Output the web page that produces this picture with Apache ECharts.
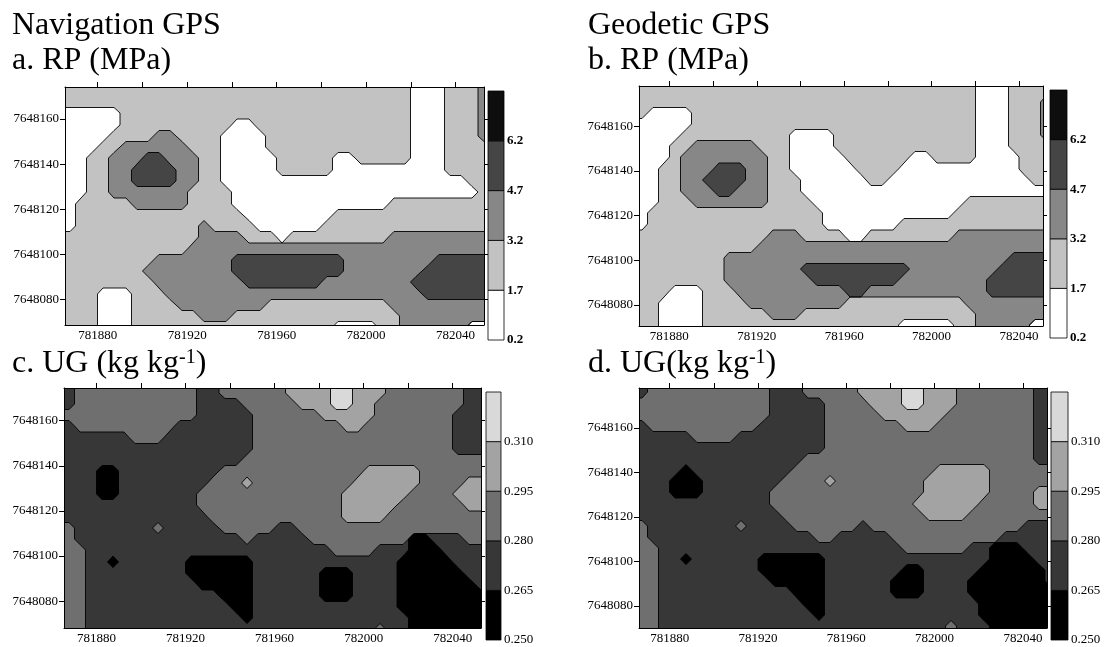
<!DOCTYPE html>
<html>
<head>
<meta charset="utf-8">
<script src="https://cdn.jsdelivr.net/npm/echarts@6/dist/echarts.min.js"></script>
<style>
html, body { margin: 0; padding: 0; background: #fff; }
#chart { width: 1107px; height: 647px; }
</style>
</head>
<body>
<div id="chart"></div>
<script>
// class breaks and grey levels of the two maps
const rpBreaks = [0.2, 1.7, 3.2, 4.7, 6.2, 7.7]
const ugBreaks = [0.250, 0.265, 0.280, 0.295, 0.310, 0.325]
const rpColors = ['#ffffff', '#c2c2c2', '#878787', '#454545', '#0e0e0e']
const ugColors = ['#000000', '#373737', '#6f6f6f', '#a3a3a3', '#d9d9d9']

const xTicks = [781880, 781900, 781920, 781940, 781960, 781980, 782000, 782020, 782040]
const xLabels = [781880, 781920, 781960, 782000, 782040]
const yTicks = [7648080, 7648100, 7648120, 7648140, 7648160]

// class index of each 5 m cell (row 0 = north edge, col 0 = west edge)
const rpNav = [
    '11111111111111111111111111111110001112',
    '11111111111111111111111111111110001112',
    '00000111111111111111111111111110001112',
    '00000111111111100111111111111110001112',
    '00001111221111000011111111111110001112',
    '00011222222111000011111111111110001111',
    '00112223322211000001111100111110001111',
    '00112233332211000001111100000000001111',
    '00112233332211000000000000000000000011',
    '00112222222111100000000000000000000001',
    '01111122222111100000000000000111111111',
    '01111111111111110000000011111111111111',
    '01111111111121111000000111111111111111',
    '11111111111122221110111111111222222222',
    '11111111111222222222222222222222222222',
    '11111111222222233333333332222222233333',
    '11111112222222233333333332222222333333',
    '11111111222222223333333222222223333333',
    '11100011122222222222222222222222333333',
    '11100011112222222211111111111222222222',
    '11100011111122211111111111111122222222',
    '11100011111111111111111100001122222200'
]
const rpGeo = [
    '11111111111111111111111111111110001111',
    '11111111111111111111111111111110001112',
    '10000111111111111111111111111110001112',
    '00000111111111111111111111111110001112',
    '00001111111111000011111111111110001112',
    '00011222222111000011111111111110001111',
    '00012222222211000001111110011110000111',
    '00112223332211000000111100000000000111',
    '00112233332211100000011000000000000011',
    '00112223322211100000000000000000000000',
    '00111222222211110000000000000011111111',
    '01111111111111111000000000000111111111',
    '01111111111111111000000011111111111111',
    '11111111111122211110011111111222222222',
    '11111111111222222222222222222222222222',
    '11111111222222222222222222222222223333',
    '11111111222222233333333332222222233333',
    '11111111222222223333333322222222333333',
    '11100011122222222223322222222222333333',
    '11000011112222222221111111111122222222',
    '11000011111122211111111111111112222222',
    '11000011111111111111111100000112222200'
]
const ugNav = [
    '12222222222211222222333344333222222211',
    '12222222222211112222233344332222222211',
    '22222222222211111222222333332222222111',
    '12222222221111111222222223322222222111',
    '11111122211111111222222222222222222111',
    '11111111111111111222222222222222222111',
    '11111111111111112222222222222222222222',
    '11100111111111222222222222233333222222',
    '11100111111112223222222222333333222233',
    '11100111111122222222222223333332222333',
    '11111111111122222222222223333322222233',
    '11111111111112222222222223333222222222',
    '21111111211111222221122222222222222222',
    '21111111111111112111112222222220011122',
    '22111111111111111111111122221110001111',
    '22110111111000000111111111111100000111',
    '22111111111000000111111000111100000011',
    '22111111111100000111111000111100000001',
    '22111111111111000111111000111100000000',
    '22111111111111100111111111111100000000',
    '22111111111111110111111111111110000000',
    '22111111111111111111111111112110000000'
]
const ugGeo = [
    '12222222222211122222333344333222222211',
    '22222222222211111222233344333222222211',
    '22222222222211111222223333332222222211',
    '12222222222111111222222233322222222211',
    '11111222211111111222222222222222222211',
    '11111111111111111222222222222222222211',
    '11111111111111122222222222222222222211',
    '11110111111111222222222222233333222222',
    '11100011111112222322222222333333222222',
    '11100011111122222222222222333333222233',
    '11111111111122222222222223333332222233',
    '11111111111112222222222222333322222222',
    '21111111121111222222122222222222222111',
    '21111111111111112211111222222222211111',
    '22111111111111111111111122222211000111',
    '22110111111000000111111111111111000011',
    '22111111111000000111111100111110000001',
    '22111111111100000111111000111100000001',
    '22111111111111000111111000111100000000',
    '22111111111111100111111111111110000000',
    '22111111111111110111111111111110000000',
    '22111111111111111111111111112111000000'
]

const serif = 'Liberation Serif'
const cellSize = 5
const west = 781865

const panels = [
    { cells: rpNav, breaks: rpBreaks, north: 7648175, x: [781865.4, 782052.7], y: [7648068.6, 7648174.2],
      plot: { left: 65, top: 87, width: 419, height: 238 }, bar: { left: 488, top: 91, width: 16, height: 249 }, digits: 1, bold: true },
    { cells: rpGeo, breaks: rpBreaks, north: 7648178.5, x: [781866.1, 782051], y: [7648070.5, 7648178],
      plot: { left: 639, top: 86, width: 404, height: 240 }, bar: { left: 1050, top: 90, width: 17, height: 248 }, digits: 1, bold: true },
    { cells: ugNav, breaks: ugBreaks, north: 7648175, x: [781865.4, 782052.7], y: [7648068.1, 7648174.5],
      plot: { left: 64, top: 388, width: 417, height: 240 }, bar: { left: 486, top: 392, width: 15, height: 248 }, digits: 3, bold: false },
    { cells: ugGeo, breaks: ugBreaks, north: 7648178.5, x: [781866.1, 782050.9], y: [7648070, 7648178],
      plot: { left: 639, top: 388, width: 408, height: 240 }, bar: { left: 1051, top: 392, width: 17, height: 248 }, digits: 3, bold: false }
]

// squares between four neighbouring cell centres; for every class present, which corners reach it
function toSquares(rows, north, breaks) {
    const nr = rows.length, nc = rows[0].length
    rows.forEach((row, r) => {
        if (row.length !== nc) throw new Error('row ' + r + ' has ' + row.length + ' cells')
    })
    const at = (r, c) => +rows[Math.min(nr - 1, Math.max(0, r))][Math.min(nc - 1, Math.max(0, c))]
    const fills = [], lines = []
    for (let r = -1; r < nr; r++) {
        for (let c = -1; c < nc; c++) {
            const q = [at(r, c), at(r, c + 1), at(r + 1, c + 1), at(r + 1, c)]
            const lo = Math.min(...q), hi = Math.max(...q)
            const x = west + cellSize * (c + 1), y = north - cellSize * (r + 1)
            for (let k = lo; k <= hi; k++) {
                const mask = (q[0] >= k ? 8 : 0) | (q[1] >= k ? 4 : 0) | (q[2] >= k ? 2 : 0) | (q[3] >= k ? 1 : 0)
                fills.push([x, y, (breaks[k] + breaks[k + 1]) / 2, mask])
                if (k > lo) lines.push([x, y, mask])
            }
        }
    }
    return { fills, lines }
}

// marching squares, region and contour for each corner mask (tl 8, tr 4, br 2, bl 1)
const regionOf = {
    1: [['L', 'B', 'BL']], 2: [['B', 'R', 'BR']], 3: [['L', 'R', 'BR', 'BL']], 4: [['T', 'TR', 'R']],
    5: [['T', 'TR', 'R'], ['L', 'B', 'BL']], 6: [['T', 'TR', 'BR', 'B']], 7: [['T', 'TR', 'BR', 'BL', 'L']],
    8: [['TL', 'T', 'L']], 9: [['TL', 'T', 'B', 'BL']], 10: [['TL', 'T', 'L'], ['B', 'R', 'BR']],
    11: [['TL', 'T', 'R', 'BR', 'BL']], 12: [['TL', 'TR', 'R', 'L']], 13: [['TL', 'TR', 'R', 'B', 'BL']],
    14: [['TL', 'TR', 'BR', 'B', 'L']], 15: [['TL', 'TR', 'BR', 'BL']]
}
const contourOf = {
    1: [['L', 'B']], 2: [['B', 'R']], 3: [['L', 'R']], 4: [['T', 'R']], 5: [['T', 'R'], ['L', 'B']],
    6: [['T', 'B']], 7: [['T', 'L']], 8: [['T', 'L']], 9: [['T', 'B']], 10: [['T', 'L'], ['B', 'R']],
    11: [['T', 'R']], 12: [['L', 'R']], 13: [['R', 'B']], 14: [['B', 'L']]
}

// pixel corners of a square, snapped so that neighbours share edges
function squarePoints(api) {
    const h = cellSize / 2
    const a = api.coord([api.value(0) - h, api.value(1) + h])
    const b = api.coord([api.value(0) + h, api.value(1) - h])
    const x0 = Math.round(a[0]), y0 = Math.round(a[1]), x1 = Math.round(b[0]), y1 = Math.round(b[1])
    const xm = (x0 + x1) / 2, ym = (y0 + y1) / 2
    return { TL: [x0, y0], TR: [x1, y0], BR: [x1, y1], BL: [x0, y1], T: [xm, y0], R: [x1, ym], B: [xm, y1], L: [x0, ym] }
}

function fillItem(params, api) {
    const P = squarePoints(api)
    const fill = api.visual('color')
    return {
        type: 'group',
        children: regionOf[api.value(3)].map(poly => ({ type: 'polygon', shape: { points: poly.map(n => P[n]) }, style: { fill } }))
    }
}

function lineItem(params, api) {
    const P = squarePoints(api)
    return {
        type: 'group',
        children: (contourOf[api.value(2)] || []).map(s => ({
            type: 'line', shape: { x1: P[s[0]][0], y1: P[s[0]][1], x2: P[s[1]][0], y2: P[s[1]][1] },
            style: { stroke: '#000', lineWidth: 0.9 }
        }))
    }
}

function barItem(params, api) {
    const a = api.coord([0, api.value(1)])
    const b = api.coord([1, api.value(0)])
    return {
        type: 'rect',
        shape: { x: a[0], y: a[1], width: b[0] - a[0], height: b[1] - a[1] },
        style: { fill: api.visual('color'), stroke: '#000', lineWidth: 0.8 }
    }
}

const black = { color: '#000', width: 1 }
const grid = [], xAxis = [], yAxis = [], series = []

panels.forEach((p, k) => {
    const sq = toSquares(p.cells, p.north, p.breaks)
    grid[k] = p.plot
    grid[4 + k] = p.bar
    xAxis[2 * k] = {
        gridIndex: k, type: 'value', position: 'bottom', min: p.x[0], max: p.x[1], z: 10,
        axisLine: { lineStyle: black }, axisTick: { show: false }, splitLine: { show: false },
        axisLabel: { customValues: xLabels, formatter: v => String(v), color: '#000', fontFamily: serif, fontSize: 13, margin: 4 }
    }
    xAxis[2 * k + 1] = {
        gridIndex: k, type: 'value', position: 'top', min: p.x[0], max: p.x[1], z: 10,
        axisLine: { lineStyle: black }, splitLine: { show: false }, axisLabel: { show: false },
        axisTick: { customValues: xTicks, length: 5, lineStyle: black }
    }
    yAxis[2 * k] = {
        gridIndex: k, type: 'value', position: 'left', min: p.y[0], max: p.y[1], z: 10,
        axisLine: { lineStyle: black }, splitLine: { show: false },
        axisTick: { customValues: yTicks, length: 5, lineStyle: black },
        axisLabel: { customValues: yTicks, formatter: v => String(v), color: '#000', fontFamily: serif, fontSize: 13, margin: 6 }
    }
    yAxis[2 * k + 1] = {
        gridIndex: k, type: 'value', position: 'right', min: p.y[0], max: p.y[1], z: 10,
        axisLine: { lineStyle: black }, splitLine: { show: false }, axisLabel: { show: false },
        axisTick: { customValues: yTicks, length: 4, lineStyle: black }
    }
    xAxis[8 + k] = { gridIndex: 4 + k, type: 'value', min: 0, max: 1, show: false }
    yAxis[8 + k] = {
        gridIndex: 4 + k, type: 'value', position: 'right', min: p.breaks[0], max: p.breaks[5],
        axisLine: { show: false }, axisTick: { show: false }, splitLine: { show: false },
        axisLabel: {
            customValues: p.breaks.slice(0, 5), formatter: v => v.toFixed(p.digits),
            color: '#000', fontFamily: serif, fontSize: 13, fontWeight: p.bold ? 'bold' : 'normal', margin: 3
        }
    }
    series.push({
        type: 'custom', xAxisIndex: 2 * k, yAxisIndex: 2 * k, clip: true, silent: true, z: 2,
        data: sq.fills, renderItem: fillItem
    }, {
        type: 'custom', xAxisIndex: 2 * k, yAxisIndex: 2 * k, clip: true, silent: true, z: 3,
        data: sq.lines, renderItem: lineItem
    }, {
        type: 'custom', xAxisIndex: 8 + k, yAxisIndex: 8 + k, clip: false, silent: true, z: 2,
        data: p.breaks.slice(0, 5).map((b, i) => [b, p.breaks[i + 1], (b + p.breaks[i + 1]) / 2]),
        renderItem: barItem
    })
})

const pieces = (breaks, colors) => colors.map((c, i) => ({ min: breaks[i], max: breaks[i + 1], color: c }))

const titleStyle = { fontFamily: serif, fontSize: 32, fontWeight: 'normal', color: '#000', lineHeight: 32 }
const supStyle = {
    ...titleStyle,
    rich: { sup: { fontFamily: serif, fontSize: 20, lineHeight: 20, verticalAlign: 'top', color: '#000' } }
}

const chart = echarts.init(document.getElementById('chart'))
chart.setOption({
    animation: false,
    backgroundColor: '#fff',
    title: [
        { text: 'Navigation GPS', left: 12, top: 10, padding: 0, textStyle: titleStyle },
        { text: 'a. RP (MPa)', left: 12, top: 45, padding: 0, textStyle: titleStyle },
        { text: 'Geodetic GPS', left: 588, top: 10, padding: 0, textStyle: titleStyle },
        { text: 'b. RP (MPa)', left: 588, top: 45, padding: 0, textStyle: titleStyle },
        { text: 'c. UG (kg kg{sup|-1})', left: 12, top: 348, padding: 0, textStyle: supStyle },
        { text: 'd. UG(kg kg{sup|-1})', left: 588, top: 348, padding: 0, textStyle: supStyle }
    ],
    visualMap: [
        { type: 'piecewise', show: false, dimension: 2, seriesIndex: [0, 2, 3, 5], pieces: pieces(rpBreaks, rpColors) },
        { type: 'piecewise', show: false, dimension: 2, seriesIndex: [6, 8, 9, 11], pieces: pieces(ugBreaks, ugColors) }
    ],
    grid,
    xAxis,
    yAxis,
    series
})
</script>
</body>
</html>
